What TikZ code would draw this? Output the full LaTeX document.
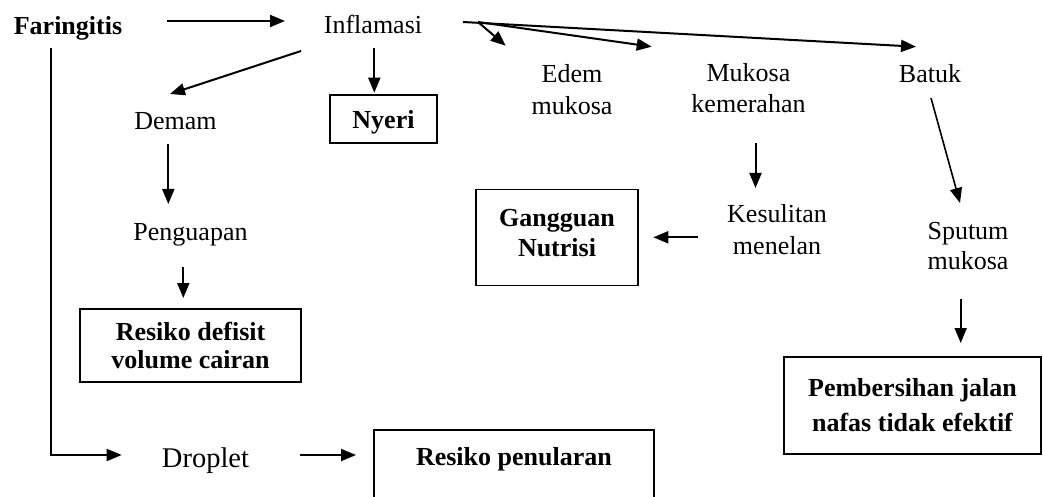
\documentclass[tikz,border=0pt]{standalone}
\usepackage{fontspec}
\setmainfont{Liberation Serif}
\usetikzlibrary{arrows.meta}
\begin{document}
\begin{tikzpicture}[x=0.5pt,y=-0.5pt,
  arr/.style={-{Triangle[length=7.5pt,width=6pt]},line width=1pt},
  lbl/.style={anchor=base,inner sep=0pt,align=center,font=\fontsize{13pt}{16pt}\selectfont},
  kotak/.style={draw,line width=0.9pt,align=center,inner sep=0pt,font=\fontsize{13pt}{15pt}\selectfont\bfseries}]
  \useasboundingbox (0,0) rectangle (1043,497);
  \node[lbl,font=\fontsize{13pt}{16pt}\selectfont\bfseries] (faring) at (68,35) {Faringitis};
  \node[lbl] (inflam) at (373,34) {Inflamasi};
  \node[lbl] (demam) at (175.5,130) {Demam};
  \node[lbl] (uap) at (190.5,241) {Penguapan};
  \node[lbl,font=\fontsize{14.25pt}{16pt}\selectfont] (droplet) at (205.5,467) {Droplet};
  \node[lbl] (edem) at (572,115) {Edem\\mukosa};
  \node[lbl,font=\fontsize{13pt}{15.5pt}\selectfont] (merah) at (748.5,112.7) {Mukosa\\kemerahan};
  \node[lbl] (batuk) at (930,83) {Batuk};
  \node[lbl] (telan) at (777,255) {Kesulitan\\menelan};
  \node[lbl,font=\fontsize{13pt}{15pt}\selectfont] (sputum) at (968,270) {Sputum\\mukosa};
  \node[kotak,minimum width=53.5pt,minimum height=24pt,text depth=0pt] (nyeri) at (383.5,119) {Nyeri};
  \node[kotak,minimum width=81pt,minimum height=48pt,text depth=5pt] (nutrisi) at (557,237.5) {Gangguan\\Nutrisi};
  \node[kotak,minimum width=110.5pt,minimum height=36.5pt,font=\fontsize{13pt}{13.7pt}\selectfont\bfseries] (cairan) at (190.5,345.5) {Resiko defisit\\volume cairan};
  \node[kotak,minimum width=128.5pt,minimum height=48.5pt,font=\fontsize{13pt}{17.5pt}\selectfont\bfseries] (jalan) at (912.5,405.5) {Pembersihan jalan\\nafas tidak efektif};
  \node[kotak,anchor=north west,minimum width=140pt,text height=18pt,text depth=27.5pt] (tular) at (373,429) {Resiko penularan};
  \coordinate (fa) at (167,21); \coordinate (fb) at (285,21);
  \coordinate (ia) at (301,51); \coordinate (ib) at (170,94);
  \coordinate (na) at (374.3,47.7); \coordinate (nb) at (374.3,92.7);
  \coordinate (pa) at (463,22); \coordinate (pb) at (478,22);
  \coordinate (ea) at (505.7,45.7); \coordinate (ma) at (651.7,46.7); \coordinate (ba) at (916,46.7);
  \coordinate (da) at (168.3,144); \coordinate (db) at (168.3,204);
  \coordinate (ua) at (183.3,267); \coordinate (ub) at (183.3,298);
  \coordinate (ka) at (755.5,143); \coordinate (kb) at (755.5,188);
  \coordinate (ga) at (697.7,237.3); \coordinate (gb) at (653.3,237.3);
  \coordinate (sa) at (931,98); \coordinate (sb) at (960,203);
  \coordinate (ja) at (960.7,299); \coordinate (jb) at (960.7,343);
  \coordinate (ra) at (50.7,48); \coordinate (rb) at (50.7,455); \coordinate (rc) at (121.7,455);
  \coordinate (ta) at (300,455); \coordinate (tb) at (356,455);
  \draw[arr] (fa) -- (fb);
  \draw[arr] (ia) -- (ib);
  \draw[arr] (na) -- (nb);
  \draw[arr] (pa) -- (ba);
  \draw[arr] (pb) -- (ea);
  \draw[arr] (pb) -- (ma);
  \draw[arr] (da) -- (db);
  \draw[arr] (ua) -- (ub);
  \draw[arr] (ka) -- (kb);
  \draw[arr] (ga) -- (gb);
  \draw[arr,line width=0.8pt] (sa) -- (sb);
  \draw[arr,line width=0.8pt] (ja) -- (jb);
  \draw[arr] (ra) -- (rb) -- (rc);
  \draw[arr] (ta) -- (tb);
\end{tikzpicture}
\end{document}
